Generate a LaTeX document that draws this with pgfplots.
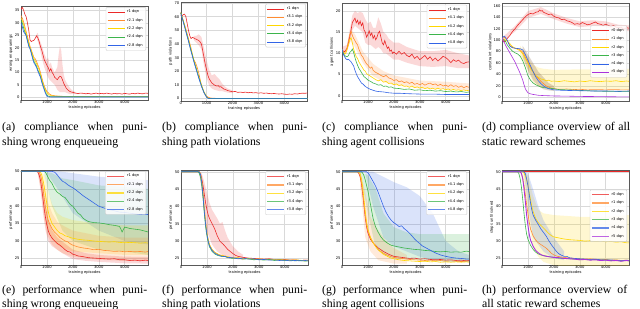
\documentclass[border=0pt]{standalone}
\usepackage{pgfplots}
\pgfplotsset{compat=1.18}
\usepackage{fontspec}
\setmainfont{Liberation Serif}
\newfontfamily\dv{DejaVu Sans}
\newcommand\tfont{\dv\fontsize{3.7}{4.2}\selectfont}
\newcommand\capfont{\fontsize{11.8}{14.5}\selectfont}
\definecolor{cR}{RGB}{235,40,40}
\definecolor{cO}{RGB}{255,140,50}
\definecolor{cY}{RGB}{255,215,0}
\definecolor{cG}{RGB}{60,180,75}
\definecolor{cB}{RGB}{50,100,230}
\definecolor{cP}{RGB}{170,50,220}
\pgfplotsset{
  panel/.style={
    scale only axis, width=127pt,
    xmin=0, xmax=4900,
    xtick={0,1000,2000,3000,4000},
    scaled ticks=false,
    /pgf/number format/1000 sep={},
    /pgf/number format/assume math mode=true,
    tick label style={font=\tfont},
    label style={font=\tfont},
    major tick length=0pt,
    xticklabel style={inner sep=1pt},
    yticklabel style={inner sep=1.2pt},
    grid=major, grid style={black!15, line width=0.35pt},
    axis line style={black!65, line width=0.4pt},
    xlabel={training episodes},
    xlabel style={inner sep=0.6pt},
    ylabel style={inner sep=0.8pt},
    every axis plot/.append style={line width=0.6pt},
    legend cell align=left,
    legend style={font=\tfont, draw=black!20, rounded corners=1pt, fill=white, fill opacity=0.85, text opacity=1, draw opacity=1, inner xsep=1.2pt, inner ysep=0.8pt, at={(0.985,0.985)}, anchor=north east},
  },
  band/.style={fill=#1, fill opacity=0.18, draw=none, forget plot},
}
\newcommand\LA[2]{\addlegendimage{#1, line width=0.8pt}\addlegendentry{#2}}
\newcommand\LB[2]{\addlegendimage{#1, line width=1.3pt, opacity=0.75}\addlegendentry{#2}}
\begin{document}
\begin{tikzpicture}
\useasboundingbox (0pt,0pt) rectangle (640pt,-308pt);
\fill[white] (0pt,0pt) rectangle (640pt,-308pt);

% ---------------- (a)
\begin{axis}[panel, at={(21pt,-100pt)}, anchor=south west, height=94.3pt,
  ymin=-1.2, ymax=37, ytick={0,5,...,35}, ylabel={wrong enqueueings}]
\LA{cR}{r1 dqn}\LA{cO}{r2.1 dqn}\LA{cY}{r2.2 dqn}\LA{cG}{r2.4 dqn}\LA{cB}{r2.8 dqn}
\addplot[band=cR] coordinates {(600,25.5)(650,26)(700,23.5)(800,21)(900,17.5)(1000,15)(1050,16)(1100,13)(1150,14)(1200,12)(1300,10)(1400,12)(1450,17)(1500,20.5)(1550,19)(1600,13)(1650,9)(1700,7)(1800,5)(1900,3.5)(2000,2.5)(2100,2)
(2100,1.2)(2000,1.3)(1900,1.2)(1800,1.5)(1700,2)(1600,2)(1500,2)(1400,3)(1300,5)(1200,6)(1100,7)(1000,9)(900,12)(800,16)(700,21)(650,22.5)(600,24)};
\addplot[cR, forget plot] coordinates {(0,35.5)(50,36.3)(100,35.2)(150,33.5)(200,32.5)(250,30)(300,27)(350,23)(400,22.5)(450,22.8)(500,23)(550,23.8)(600,24.8)(650,24)(700,22.5)(750,20.5)(800,19)(850,17)(900,15)(950,14)(1000,12.8)(1050,12)(1100,10.5)(1150,11.5)(1200,10)(1250,9.2)(1300,8)(1350,7.5)(1400,7)(1450,7.8)(1500,8.4)(1550,8.2)(1600,7)(1650,5.5)(1700,4.5)(1750,3.5)(1800,3)(1850,2.5)(1900,2.2)(1950,2)(2000,1.9)(2100,1.6)(2200,1.4)(2300,1.6)(2400,1.5)(2500,1.3)(2600,1.5)(2700,1.2)(2800,1.4)(2900,1.6)(3000,1.3)(3100,1.5)(3200,1.3)(3300,1.6)(3400,1.4)(3500,1.2)(3600,1.5)(3700,1.3)(3800,1.4)(3900,1.2)(4000,1.5)(4100,1.3)(4200,1.2)(4300,1.5)(4400,1.3)(4500,1.6)(4600,1.4)(4700,1.3)(4800,1.6)(4900,1.5)};
\addplot[cO, forget plot] coordinates {(0,33)(50,32)(100,30.5)(150,28.5)(200,26.5)(250,24.5)(300,22.5)(350,20.5)(400,19)(450,17.5)(500,16)(550,15.5)(600,14.5)(650,13)(700,11.8)(750,10)(800,8)(850,6)(900,4.5)(950,3.2)(1000,2.2)(1050,1.8)(1100,1.2)(1150,0.9)(1200,0.7)(1300,0.5)(1400,0.4)(1600,0.3)(2000,0.2)(3000,0.2)(4000,0.2)(4900,0.2)};
\addplot[cY, forget plot] coordinates {(0,32)(50,31)(100,29.5)(150,27.5)(200,25.8)(250,23.8)(300,22)(350,20)(400,18.5)(450,17)(500,15.5)(550,14.5)(600,13.5)(650,12.3)(700,11)(750,9.3)(800,7.5)(850,5.5)(900,4)(950,2.8)(1000,1.8)(1050,1.2)(1100,0.8)(1200,0.5)(1300,0.4)(1500,0.3)(2000,0.2)(4900,0.2)};
\addplot[cG, forget plot] coordinates {(0,31)(50,30)(100,28)(150,26.3)(200,25)(250,23)(300,21)(350,19.5)(400,18)(450,16)(500,14.5)(550,13.5)(600,12.5)(650,11)(700,9.8)(750,8.5)(800,6.5)(850,4.8)(900,3.3)(950,1.8)(1000,0.8)(1050,0.4)(1100,0.2)(1200,0.1)(4900,0.1)};
\addplot[cB, forget plot] coordinates {(0,30)(50,28.5)(100,26.5)(150,25.7)(200,24.8)(250,22.5)(300,20.5)(350,19.5)(400,17.5)(450,15.5)(500,13.8)(550,13)(600,12)(650,10.5)(700,9.2)(750,8)(800,6)(850,4.3)(900,2.8)(950,1.3)(1000,0.3)(1050,0.1)(1100,0)(4900,0)};
\end{axis}

% ---------------- (b)
\begin{axis}[panel, at={(180.7pt,-100.7pt)}, anchor=south west, height=98.4pt,
  ymin=-1.5, ymax=70.5, ytick={0,10,...,70}, ylabel={path violations}]
\LA{cR}{r1 dqn}\LA{cO}{r3.1 dqn}\LA{cY}{r3.2 dqn}\LA{cG}{r3.4 dqn}\LA{cB}{r3.8 dqn}
\addplot[band=cR] coordinates {(500,46)(600,46)(700,47)(800,45)(900,37)(1000,28)(1100,21)(1200,17)(1300,18)(1400,16)(1500,14)(1600,11)(1700,9)(1800,7.5)(2000,6)
(2000,4)(1800,4.5)(1700,5)(1600,5.5)(1500,5.5)(1400,6)(1300,6.5)(1200,7.5)(1100,9.5)(1000,15)(900,24)(800,36)(700,39)(600,41)(500,43)};
\addplot[cR, forget plot] coordinates {(0,61)(50,60.5)(100,61.5)(150,61.8)(200,60)(250,55)(300,50)(350,46)(400,44)(450,44.8)(500,44.5)(550,43.8)(600,43.5)(650,43)(700,42.5)(750,41.5)(800,40)(850,35)(900,30)(950,25)(1000,21)(1050,17)(1100,14.5)(1150,13)(1200,11.5)(1250,10.8)(1300,10)(1350,9.5)(1400,9.2)(1450,9.5)(1500,8.5)(1550,8.8)(1600,8)(1650,7.2)(1700,6.8)(1750,6.5)(1800,6)(1900,5.5)(2000,5)(2100,5.3)(2200,4.6)(2300,4.8)(2400,4.5)(2500,4.8)(2600,4.3)(2700,4.6)(2800,4.2)(2900,4.4)(3000,4)(3100,4.3)(3200,3.9)(3300,4.1)(3400,3.8)(3500,3.6)(3600,3.8)(3700,3.5)(3800,3.4)(3900,3.6)(4000,3.3)(4100,3.1)(4200,3.4)(4300,3.2)(4400,3.6)(4500,3.4)(4600,3.8)(4700,4)(4800,3.9)(4900,4.2)};
\addplot[cO, forget plot] coordinates {(0,63)(100,57)(200,51)(300,44)(400,37)(450,32)(500,28.5)(550,27)(600,25)(650,22)(700,18.5)(750,14)(800,10)(850,7)(900,4.5)(950,2.8)(1000,1.8)(1050,1.2)(1100,0.7)(1200,0.4)(1400,0.2)(1600,0.1)(4900,0.1)};
\addplot[cY, forget plot] coordinates {(0,63)(100,57)(200,50)(300,43)(400,36)(500,29)(600,22.5)(700,16)(800,10)(900,5)(1000,1.5)(1050,0.6)(1100,0.2)(1200,0.1)(4900,0.1)};
\addplot[cG, forget plot] coordinates {(0,63)(100,56.5)(200,49.5)(300,42.5)(400,35)(450,32)(500,28)(600,22)(700,15.5)(800,9.5)(900,4.5)(1000,1.2)(1050,0.4)(1100,0.1)(4900,0.1)};
\addplot[cB, forget plot] coordinates {(0,62.5)(100,56)(200,49)(300,42)(400,34.5)(500,27.5)(600,21)(700,14.8)(800,9)(900,4.3)(1000,1)(1050,0.3)(1100,0)(4900,0)};
\end{axis}

% ---------------- (c)
\begin{axis}[panel, at={(342pt,-100pt)}, anchor=south west, height=96.7pt,
  ymin=-1, ymax=21.8, ytick={0,5,...,20}, ylabel={agent collisions}]
\LA{cR}{r1 dqn}\LA{cO}{r4.1 dqn}\LA{cY}{r4.2 dqn}\LA{cG}{r4.4 dqn}\LA{cB}{r4.8 dqn}
\addplot[band=cR] coordinates {(0,11.5)(200,12)(300,15.5)(400,19)(500,20)(600,19.5)(700,19.8)(800,19.5)(900,18)(1000,17)(1100,17.5)(1200,16)(1300,16)(1400,18.5)(1500,17)(1600,15)(1700,14.5)(1800,13.5)(2000,12.5)(2200,12.5)(2500,11.5)(3000,10.5)(3500,10.5)(4000,10.8)(4500,10)(4900,9.5)
(4900,6.5)(4500,6.5)(4000,7)(3500,6.8)(3000,7)(2500,7.8)(2200,8.5)(2000,8.5)(1800,9.5)(1700,10)(1600,10)(1500,11)(1400,11.5)(1300,11)(1200,11.5)(1100,12)(1000,12)(900,12.5)(800,15)(700,15.5)(600,16)(500,16.5)(400,15.5)(300,12.5)(200,10.5)(0,10.5)};
\addplot[band=cO] coordinates {(300,16)(500,14.5)(800,10.5)(1200,7.5)(1600,5.8)(2000,4.8)(2500,4.2)(3000,3.6)(4000,3.3)(4900,2.9)
(4900,1.2)(4000,1.6)(3000,1.7)(2500,2.2)(2000,2.5)(1600,3.3)(1200,4.6)(800,7.8)(500,11.5)(300,13)};
\addplot[cR, forget plot] coordinates {(0,11)(50,10.5)(100,10.4)(150,10.8)(200,11.2)(250,12.5)(300,14)(350,15.5)(400,17.3)(450,17.8)(500,18.3)(550,17.2)(600,17.8)(650,16.8)(700,17.6)(750,16.5)(800,17.2)(850,15.5)(900,15)(950,13.8)(1000,14.5)(1050,15.3)(1100,14.2)(1150,14.8)(1200,13.5)(1250,14.2)(1300,13.2)(1350,13.8)(1400,14.8)(1450,15.2)(1500,13.8)(1550,12.5)(1600,12)(1650,13)(1700,12)(1750,11.2)(1800,11.5)(1850,10.5)(1900,10.8)(1950,10)(2000,10.3)(2100,9.8)(2200,10.5)(2300,9.8)(2400,10.2)(2500,9.5)(2600,9.2)(2700,9.8)(2800,8.8)(2900,9.3)(3000,8.5)(3100,9)(3200,9.5)(3300,8.6)(3400,9.2)(3500,8.3)(3600,8.9)(3700,8.2)(3800,8.7)(3900,9.3)(4000,9)(4100,8.5)(4200,7.8)(4300,8.5)(4400,8.1)(4500,8.4)(4600,7.8)(4700,7.6)(4800,7.9)(4900,8)};
\addplot[cO, forget plot] coordinates {(0,11)(50,10.3)(100,10)(150,10.5)(200,11.5)(250,13)(300,14.5)(350,15.2)(400,14.2)(450,13.5)(500,13)(550,12.4)(600,12)(650,11)(700,10.3)(750,9.5)(800,9.2)(850,8.5)(900,8)(950,7.5)(1000,7.2)(1050,6.8)(1100,6.5)(1150,6.8)(1200,6)(1300,5.5)(1400,5.2)(1500,4.8)(1600,4.5)(1700,4.8)(1800,4.2)(1900,4)(2000,3.6)(2100,3.8)(2200,3.3)(2300,3.5)(2400,3.1)(2500,3.3)(2600,2.9)(2700,3.2)(2800,2.7)(2900,2.9)(3000,2.6)(3100,2.9)(3200,2.5)(3300,2.8)(3400,3)(3500,2.6)(3600,2.8)(3700,2.4)(3800,2.7)(3900,2.3)(4000,2.5)(4100,2.2)(4200,2.6)(4300,2.2)(4400,2.4)(4500,2)(4600,2.3)(4700,1.9)(4800,2.2)(4900,2)};
\addplot[cY, forget plot] coordinates {(0,11)(50,10.2)(100,9.8)(150,10)(200,11)(250,12)(300,13.2)(350,13.7)(400,12.5)(450,11)(500,10)(550,9.2)(600,8.8)(650,8)(700,7.5)(750,7)(800,6.5)(850,6)(900,5.8)(950,5.2)(1000,5)(1100,4.6)(1200,4.2)(1300,3.8)(1400,3.5)(1500,3.8)(1600,3.2)(1700,3.4)(1800,2.9)(1900,3)(2000,2.6)(2100,2.8)(2200,2.4)(2300,2.6)(2400,2.2)(2500,2.3)(2600,2)(2700,2.3)(2800,1.9)(2900,2.1)(3000,1.8)(3100,2)(3200,1.7)(3300,1.9)(3400,1.6)(3500,1.8)(3600,1.5)(3700,1.8)(3800,1.5)(3900,1.7)(4000,1.4)(4100,1.6)(4200,1.3)(4300,1.5)(4400,1.3)(4500,1.4)(4600,1.2)(4700,1.4)(4800,1.2)(4900,1.3)};
\addplot[cG, forget plot] coordinates {(0,11)(50,10)(100,9.5)(150,9.3)(200,9.2)(250,9.5)(300,10.2)(350,10.5)(400,11)(450,10.2)(500,9)(550,8)(600,7.2)(650,6.5)(700,6)(750,5.5)(800,5)(850,4.5)(900,4.3)(950,4)(1000,3.7)(1100,3.4)(1200,3)(1300,2.8)(1400,2.5)(1500,2.6)(1600,2.2)(1700,2.3)(1800,2)(1900,2.1)(2000,1.8)(2200,1.7)(2400,1.5)(2600,1.6)(2800,1.3)(3000,1.4)(3200,1.2)(3400,1.3)(3600,1.1)(3800,1.2)(4000,1)(4200,1.1)(4400,0.9)(4600,1)(4800,0.8)(4900,0.9)};
\addplot[cB, forget plot] coordinates {(0,11)(50,9.8)(100,9.2)(150,8.7)(200,8.5)(250,8.6)(300,8.3)(350,8)(400,7.5)(450,7)(500,6)(550,5.2)(600,4.5)(650,4)(700,3.5)(750,3)(800,2.8)(850,2.5)(900,2.2)(950,2)(1000,1.8)(1100,1.5)(1200,1.3)(1300,1.1)(1400,1)(1600,0.9)(1800,0.7)(2000,0.6)(2200,0.6)(2500,0.5)(3000,0.4)(3500,0.4)(4000,0.3)(4500,0.3)(4900,0.3)};
\end{axis}

% ---------------- (d)
\begin{axis}[panel, at={(502pt,-100.7pt)}, anchor=south west, height=97.4pt,
  ymin=-6, ymax=164.7, ytick={0,20,...,160}, ylabel={constraint violations},
  legend style={at={(0.985,0.505)}, anchor=east}]
\LA{cR}{r0 dqn}\LA{cO}{r1 dqn}\LA{cY}{r2 dqn}\LA{cG}{r3 dqn}\LA{cB}{r4 dqn}\LA{cP}{r5 dqn}
\addplot[band=cR] coordinates {(0,104)(500,125)(1000,151)(1500,158)(2000,147)(2500,139)(3000,133)(3500,135)(4000,133)(4500,127)(4900,126)
(4900,116)(4500,117)(4000,123)(3500,125)(3000,123)(2500,129)(2000,137)(1500,146)(1000,139)(500,115)(0,98)};
\addplot[band=cY] coordinates {(700,90)(900,78)(1000,70)(1100,62)(1200,57)(1400,52)(1600,50)(2000,48)(3000,49)(4000,49)(4900,50)
(4900,13)(4000,14)(3000,14)(2000,15)(1600,17)(1400,19)(1200,27)(1000,45)(900,58)(700,72)};
\addplot[fill=black!60!cO, fill opacity=0.2, draw=none, forget plot] coordinates {(800,90)(1000,75)(1200,60)(1400,45)(1600,35)(1800,25)(2000,20)
(2000,11)(1800,12)(1600,14)(1400,20)(1200,30)(1000,48)(800,70)};
\addplot[cR, forget plot] coordinates {(0,101)(50,99)(100,97)(150,99)(200,103)(300,108)(400,115)(500,120)(600,126)(700,131)(800,136)(900,141)(1000,145)(1100,147)(1200,146)(1300,149)(1400,150)(1450,153)(1500,151)(1550,152)(1600,149)(1700,147)(1800,145)(1900,146)(2000,142)(2100,140)(2200,139)(2300,136)(2400,137)(2500,134)(2600,133)(2700,131)(2800,128)(2900,129)(3000,128)(3100,131)(3200,129)(3300,127)(3400,128)(3500,130)(3600,132)(3700,129)(3800,128)(3900,126)(4000,128)(4100,126)(4200,124)(4300,126)(4400,123)(4500,122)(4600,123)(4700,119)(4800,122)(4900,121)};
\addplot[cO, forget plot] coordinates {(0,102)(50,104)(100,105)(150,102)(200,99)(250,95)(300,91)(400,87)(500,86)(600,85)(700,83)(800,79)(850,75)(900,70)(950,66)(1000,62)(1050,56)(1100,52)(1150,48)(1200,45)(1300,38)(1400,33)(1500,28)(1600,24)(1700,20)(1800,18)(1900,16)(2000,15)(2200,14)(2500,14.5)(2800,13.5)(3000,14)(3300,13)(3600,13.5)(4000,13)(4300,13.5)(4600,13)(4900,13)};
\addplot[cY, forget plot] coordinates {(0,102)(100,101)(200,99)(300,94)(400,89)(500,86)(600,84)(700,81)(800,76)(900,68)(1000,60)(1100,50)(1200,44)(1300,38)(1400,35)(1500,32)(1600,31)(1700,29)(1800,30)(1900,28)(2000,28.5)(2200,27.5)(2400,29)(2600,28)(2800,27)(3000,28.5)(3200,27.5)(3400,29)(3600,28)(3800,27.5)(4000,28.5)(4200,28)(4400,29)(4600,27.5)(4800,28.5)(4900,28)};
\addplot[cG, forget plot] coordinates {(0,102)(50,101)(100,100)(150,97)(200,92)(300,86)(400,81)(500,78)(600,76)(700,72)(800,64)(900,52)(950,45)(1000,38)(1100,30)(1200,25)(1300,22)(1400,20)(1500,18)(1600,17)(1800,16)(2000,15)(2200,13.5)(2500,13)(2800,12.5)(3000,12)(3300,11.5)(3600,11)(4000,10.5)(4300,10.5)(4600,10)(4900,10)};
\addplot[cB, forget plot] coordinates {(0,103)(50,106)(100,107)(150,104)(200,100)(250,95)(300,90)(400,87)(500,86)(600,85.5)(700,85)(800,83)(900,75)(1000,65)(1100,55)(1200,45)(1300,36)(1400,29)(1500,24)(1600,20)(1700,17)(1800,15)(1900,14)(2000,13)(2200,12.5)(2500,12)(3000,11.5)(3500,11)(4000,11)(4500,10.5)(4900,11)};
\addplot[cP, forget plot] coordinates {(0,103)(50,98)(100,95)(150,90)(200,86)(300,78)(400,70)(500,62)(600,52)(700,42)(800,30)(850,22)(900,15)(950,11)(1000,8)(1100,6)(1200,5)(1400,3.5)(1600,3)(2000,2.3)(2500,2)(3000,1.5)(3500,1.3)(4000,1)(4500,0.8)(4900,0.8)};
\end{axis}

% ---------------- (e)
\begin{axis}[panel, at={(21pt,-265pt)}, anchor=south west, height=95.3pt,
  ymin=23.1, ymax=50.5, ytick={25,30,...,50}, ylabel={performance}]
\LB{cR}{r1 dqn}\LB{cO}{r2.1 dqn}\LB{cY}{r2.2 dqn}\LB{cG}{r2.4 dqn}\LB{cB}{r2.8 dqn}
\addplot[band=cB] coordinates {(1000,50)(1500,50)(2000,49.5)(3000,48.5)(4000,48)(4900,47.5)
(4900,29)(4000,30)(3000,33)(2000,38)(1500,44)(1000,49.5)};
\addplot[band=cG] coordinates {(900,50)(1200,49.5)(1600,48)(2000,47.5)(3000,46)(4000,45.5)(4900,45)
(4900,26)(4000,27)(3000,27.5)(2000,30)(1600,33)(1200,40)(1000,46)(900,49)};
\addplot[band=cY] coordinates {(750,50)(900,49)(1000,46)(1100,43)(1200,40.5)(1400,38)(1600,37)(2000,36)(3000,35)(4000,34.5)(4900,34.5)
(4900,26)(4000,26)(3000,26.5)(2000,27)(1600,28)(1400,29)(1200,30.5)(1000,34)(900,40)(750,49)};
\addplot[band=cO] coordinates {(650,50)(800,49)(900,46)(1000,42)(1200,38)(1400,35.5)(1600,34.5)(2000,33)(3000,31.5)(4000,31)(4900,31)
(4900,24.3)(4000,24.3)(3000,24.6)(2000,25.5)(1600,26.5)(1400,27.5)(1200,29)(1000,32)(900,36)(800,43)(650,49.5)};
\addplot[band=cR] coordinates {(650,50)(750,49)(850,45)(950,39.5)(1050,36)(1200,33)(1400,31)(1600,29.8)(2000,27.5)(2500,26.5)(3000,26)(4000,25.5)(4900,25.4)
(4900,23.5)(4000,23.6)(3000,24)(2500,24.3)(2000,24.8)(1600,26.5)(1400,27.5)(1200,28.5)(1050,30)(950,33)(850,38)(750,45)(650,49.5)};
\addplot[cR, forget plot] coordinates {(0,50)(600,50)(650,49.8)(700,49)(750,47.5)(800,45)(850,42)(900,39)(950,36.5)(1000,34.5)(1050,33)(1100,32)(1200,30.8)(1300,30)(1400,29.3)(1500,28.8)(1600,28.2)(1700,27.5)(1800,27)(1900,26.8)(2000,26.2)(2100,26)(2200,25.7)(2400,25.5)(2600,25.2)(2800,25.1)(3000,25)(3200,24.9)(3400,24.8)(3600,24.9)(3800,24.6)(4000,24.6)(4200,24.4)(4400,24.5)(4600,24.3)(4800,24.5)(4900,24.4)};
\addplot[cO, forget plot] coordinates {(0,50)(650,50)(700,49.8)(750,49)(800,47.5)(850,45)(900,42)(950,39.5)(1000,37.5)(1050,36)(1100,35)(1200,33.5)(1300,32.5)(1400,31.8)(1500,31)(1600,30.5)(1700,30)(1800,29.8)(1900,29.2)(2000,28.8)(2200,28.3)(2400,28)(2600,27.8)(2800,27.5)(3000,27.6)(3200,27.3)(3400,27.2)(3600,27)(3800,27.1)(4000,26.9)(4200,27)(4400,26.9)(4600,27)(4800,26.8)(4900,27)};
\addplot[cY, forget plot] coordinates {(0,50)(700,50)(750,49.8)(800,49)(850,47.5)(900,45.5)(950,43)(1000,40.5)(1050,38.5)(1100,37)(1200,35)(1300,34)(1400,33)(1500,32.3)(1600,32)(1700,31.5)(1800,31.3)(1900,31)(2000,30.8)(2200,30.5)(2400,30.3)(2600,30.2)(2800,30)(3000,29.9)(3200,29.8)(3400,29.7)(3600,29.8)(3800,29.6)(4000,29.5)(4200,29.6)(4400,29.5)(4600,29.4)(4800,29.5)(4900,29.4)};
\addplot[cG, forget plot] coordinates {(0,50)(900,50)(950,49.7)(1000,49)(1100,47.5)(1200,46.5)(1300,45)(1400,44)(1500,43.5)(1600,42.8)(1700,42.5)(1800,41.5)(1900,40.5)(2000,40)(2100,39)(2200,38)(2300,37.5)(2400,36.5)(2500,36)(2600,35.6)(2800,35.3)(3000,35.2)(3200,35)(3400,34.7)(3600,34.5)(3800,34.2)(3850,33.5)(3900,32.6)(3950,33.3)(4000,34)(4100,33.8)(4200,33.6)(4400,33.4)(4600,33.2)(4800,32.8)(4900,32.6)};
\addplot[cB, forget plot] coordinates {(0,50)(1200,50)(1300,49.8)(1400,49)(1500,48)(1600,47.2)(1700,46.8)(1800,46.2)(1900,45.7)(2000,45.3)(2100,44.8)(2200,44.2)(2300,43.6)(2400,43)(2500,42.5)(2600,42)(2700,41.5)(2800,41)(2900,40.5)(3000,40)(3200,39.5)(3400,39)(3600,38.7)(3800,38.3)(4000,38.2)(4200,38)(4400,37.8)(4600,37.6)(4800,37.7)(4900,37.6)};
\end{axis}

% ---------------- (f)
\begin{axis}[panel, at={(181pt,-265pt)}, anchor=south west, height=95pt,
  ymin=23.1, ymax=50.5, ytick={25,30,...,50}, ylabel={performance}]
\LB{cR}{r1 dqn}\LB{cO}{r3.1 dqn}\LB{cY}{r3.2 dqn}\LB{cG}{r3.4 dqn}\LB{cB}{r3.8 dqn}
\addplot[band=cR] coordinates {(700,50)(800,49.5)(900,47)(1000,44)(1100,41)(1200,39)(1400,36.5)(1500,35)(1600,35.5)(1700,33)(1800,31)(2000,28.5)(2200,27)(2400,26)
(2400,24.5)(2200,24.8)(2000,25)(1800,25.5)(1600,26)(1400,27)(1200,29)(1100,31)(1000,33)(900,38)(800,45)(700,49.5)};
\addplot[cR, forget plot] coordinates {(0,50)(700,50)(750,49.5)(800,48)(850,46)(900,43.5)(950,41)(1000,39)(1050,37.5)(1100,36.5)(1200,35)(1300,33.5)(1400,31.5)(1500,30)(1550,29.6)(1600,29.3)(1700,28.5)(1800,27.6)(1900,27)(2000,26.4)(2100,25.9)(2200,25.6)(2400,25.3)(2600,25.1)(2800,25)(3000,24.9)(3200,24.8)(3400,24.9)(3600,24.7)(3800,24.6)(4000,24.7)(4200,24.5)(4400,24.6)(4600,24.4)(4800,24.5)(4900,24.5)};
\addplot[cO, forget plot] coordinates {(0,50)(700,50)(750,49.5)(800,47.5)(850,44)(900,39.5)(950,35.5)(1000,32.5)(1050,30.5)(1100,29)(1200,27.5)(1300,26.8)(1400,26.3)(1500,26)(1600,25.8)(1700,25.7)(1800,25.4)(2000,25.2)(2200,25.1)(2400,25)(2600,24.9)(2800,24.8)(3000,24.9)(3200,24.7)(3400,24.8)(3600,24.6)(3800,24.7)(4000,24.5)(4200,24.6)(4400,24.5)(4600,24.4)(4800,24.5)(4900,24.4)};
\addplot[cY, forget plot] coordinates {(0,50)(700,50)(750,49.4)(800,47.2)(850,43.5)(900,39)(950,35.2)(1000,32.2)(1050,30.3)(1100,28.9)(1200,27.6)(1300,26.7)(1400,26.4)(1500,25.9)(1600,25.9)(1700,25.5)(1800,25.5)(2000,25.1)(2200,25.2)(2400,24.9)(2600,25)(2800,24.7)(3000,24.8)(3200,24.8)(3400,24.6)(3600,24.7)(3800,24.5)(4000,24.6)(4200,24.4)(4400,24.6)(4600,24.5)(4800,24.3)(4900,24.5)};
\addplot[cG, forget plot] coordinates {(0,50)(650,50)(700,49.6)(750,48.5)(800,46)(850,42.5)(900,38)(950,34)(1000,31.5)(1050,29.5)(1100,28.3)(1200,27)(1300,26.3)(1400,25.9)(1500,25.7)(1600,25.5)(1700,25.6)(1800,25.2)(2000,25)(2200,25.1)(2400,24.8)(2600,24.9)(2800,24.6)(3000,24.7)(3200,24.5)(3400,24.7)(3600,24.4)(3800,24.6)(4000,24.4)(4200,24.5)(4400,24.3)(4600,24.4)(4800,24.2)(4900,24.3)};
\addplot[cB, forget plot] coordinates {(0,50)(700,50)(750,49.3)(800,47)(850,43)(900,38.5)(950,34.8)(1000,32)(1050,30)(1100,28.6)(1200,27.3)(1300,26.5)(1400,26.1)(1500,25.8)(1600,25.6)(1700,25.5)(1800,25.3)(2000,25.2)(2200,24.9)(2400,25.1)(2600,24.8)(2800,24.9)(3000,24.6)(3200,24.7)(3400,24.5)(3600,24.6)(3800,24.4)(4000,24.5)(4200,24.3)(4400,24.4)(4600,24.3)(4800,24.4)(4900,24.3)};
\end{axis}

% ---------------- (g)
\begin{axis}[panel, at={(342pt,-265pt)}, anchor=south west, height=95pt,
  ymin=23.1, ymax=50.5, ytick={25,30,...,50}, ylabel={performance}]
\LB{cR}{r1 dqn}\LB{cO}{r4.1 dqn}\LB{cY}{r4.2 dqn}\LB{cG}{r4.4 dqn}\LB{cB}{r4.8 dqn}
\addplot[band=cB] coordinates {(900,50)(1200,50)(1600,48.5)(2000,47)(2500,45.5)(3000,43)(3500,38)(4000,30)(4500,27)(4900,26)
(4900,24)(4500,24)(4000,24.2)(3500,24.5)(3000,25.5)(2500,27)(2000,28.5)(1600,31)(1200,40)(900,49.5)};
\addplot[band=cG] coordinates {(700,50)(1000,49)(1300,45)(1600,38)(2000,34)(2500,32.5)(3000,32)(4000,32)(4900,32)
(4900,24)(4000,24)(3000,24.5)(2000,25)(1600,26)(1300,28)(1000,38)(700,49.5)};
\addplot[band=cO] coordinates {(700,50)(900,44)(1100,37)(1400,33)(1700,30)(2000,28)(2500,26)
(2500,23.5)(2000,23.5)(1700,24)(1400,24.5)(1100,27)(900,31)(700,46)};
\addplot[cR, forget plot] coordinates {(0,50)(600,50)(650,49.5)(700,48.5)(750,46.5)(800,43.5)(850,40)(900,36.5)(950,34)(1000,32.3)(1100,30.5)(1200,29.5)(1300,28.7)(1400,28)(1500,27.5)(1600,27)(1700,26.6)(1800,26.2)(1900,25.9)(2000,25.6)(2200,25.4)(2400,25.2)(2600,25)(2800,25.1)(3000,24.8)(3200,24.9)(3400,24.7)(3600,24.6)(3800,24.7)(4000,24.5)(4200,24.6)(4400,24.4)(4600,24.5)(4800,24.3)(4900,24.4)};
\addplot[cO, forget plot] coordinates {(0,50)(600,50)(650,49.6)(700,48.8)(750,47)(800,44)(850,40.5)(900,37)(950,34.5)(1000,32.8)(1100,31)(1200,29.5)(1300,28.5)(1400,27.5)(1500,27)(1600,26.5)(1700,26.1)(1800,25.8)(1900,25.5)(2000,25.3)(2200,25.1)(2400,24.9)(2600,24.7)(2800,24.6)(3000,24.5)(3200,24.4)(3400,24.5)(3600,24.3)(3800,24.4)(4000,24.2)(4200,24.3)(4400,24.2)(4600,24.1)(4800,24.2)(4900,24.2)};
\addplot[cY, forget plot] coordinates {(0,50)(650,50)(700,49.5)(750,48)(800,45.5)(850,42)(900,38.5)(950,35.5)(1000,33.5)(1100,31)(1200,29.5)(1300,28.4)(1400,27.5)(1500,26.8)(1600,26.2)(1700,25.8)(1800,25.4)(1900,25.1)(2000,24.9)(2200,24.6)(2400,24.4)(2600,24.3)(2800,24.2)(3000,24.1)(3200,24.2)(3400,24)(3600,24.1)(3800,23.9)(4000,24)(4200,23.9)(4400,24)(4600,23.9)(4800,24)(4900,23.9)};
\addplot[cG, forget plot] coordinates {(0,50)(750,50)(800,49.6)(850,48.8)(900,47.5)(950,46)(1000,44.5)(1050,42.5)(1100,40.5)(1150,38.5)(1200,36.5)(1300,34)(1400,32.5)(1500,31.2)(1600,30.3)(1700,29.7)(1800,29.2)(1900,28.8)(2000,28.6)(2200,28.3)(2400,28)(2600,27.8)(2800,27.6)(3000,27.5)(3200,27.3)(3400,27.2)(3600,27)(3800,26.9)(4000,27)(4200,26.8)(4400,26.9)(4600,26.8)(4800,27.1)(4900,27)};
\addplot[cB, forget plot] coordinates {(0,50)(950,50)(1000,49.7)(1050,49.2)(1100,48.5)(1200,47.2)(1300,45.8)(1400,44)(1500,42)(1600,40)(1700,38.3)(1800,37)(1900,36)(2000,35.3)(2100,34.8)(2200,34.2)(2300,34.4)(2400,33.6)(2500,33)(2600,32.3)(2700,31.5)(2800,30.6)(2900,29.9)(3000,29.3)(3100,28.6)(3200,28.2)(3300,27.8)(3400,27.4)(3500,27)(3600,26.6)(3700,26.3)(3800,26)(3900,25.8)(4000,25.6)(4200,25.3)(4400,25.1)(4600,25)(4800,24.8)(4900,24.8)};
\end{axis}

% ---------------- (h)
\begin{axis}[panel, at={(502pt,-265pt)}, anchor=south west, height=95pt,
  ymin=23.1, ymax=50.5, ytick={25,30,...,50}, ylabel={steps until solved},
  legend style={at={(0.985,0.52)}, anchor=east}]
\LB{cR}{r0 dqn}\LB{cO}{r1 dqn}\LB{cY}{r2 dqn}\LB{cG}{r3 dqn}\LB{cB}{r4 dqn}\LB{cP}{r5 dqn}
\addplot[band=cY] coordinates {(800,50)(1000,49)(1200,43)(1400,39)(1600,38)(2000,37.5)(3000,37)(4000,37)(4900,37.5)
(4900,22)(4000,22)(3000,22.3)(2000,23)(1600,24)(1400,25.5)(1200,28)(1000,37)(800,49)};
\addplot[band=cB] coordinates {(850,50)(1000,49.5)(1200,45)(1400,40)(1600,36)(2000,31)(2400,27)
(2400,24.5)(2000,25)(1600,27)(1400,29)(1200,31)(1000,40)(850,49.5)};
\addplot[cR, forget plot] coordinates {(0,50)(1000,50)(2000,50)(3000,50)(4000,50)(4900,50)};
\addplot[cO, forget plot] coordinates {(0,50)(700,50)(750,49.5)(800,48)(850,46)(900,43.5)(950,40.5)(1000,38)(1050,35.5)(1100,33.5)(1200,31.5)(1300,30.3)(1400,29.5)(1500,29)(1600,28.5)(1700,28)(1800,27.3)(1900,26.5)(2000,26)(2100,25.7)(2200,25.5)(2400,25.3)(2600,25.1)(2800,25)(3000,24.9)(3200,24.8)(3400,24.9)(3600,24.7)(3800,24.6)(4000,24.7)(4200,24.5)(4400,24.6)(4600,24.4)(4800,24.5)(4900,24.4)};
\addplot[cY, forget plot] coordinates {(0,50)(800,50)(850,49.6)(900,48.8)(950,47.5)(1000,46)(1050,44)(1100,42)(1150,40)(1200,38.5)(1300,36.5)(1400,35.3)(1500,34.5)(1600,33.8)(1700,33)(1800,32.2)(1900,31.6)(2000,31.2)(2200,30.9)(2400,30.6)(2600,30.4)(2800,30.3)(3000,30.2)(3200,30)(3400,30.1)(3600,29.9)(3800,30)(4000,29.8)(4200,29.9)(4400,29.7)(4600,29.8)(4800,29.5)(4900,29.5)};
\addplot[cG, forget plot] coordinates {(0,50)(600,50)(650,49.5)(700,48)(750,45.5)(800,42)(850,38)(900,34.5)(950,32)(1000,30.5)(1100,28.8)(1200,27.6)(1300,26.8)(1400,26.3)(1500,26)(1600,25.8)(1800,25.5)(2000,25.3)(2200,25.1)(2400,25)(2600,24.9)(2800,24.8)(3000,24.7)(3200,24.8)(3400,24.6)(3600,24.7)(3800,24.5)(4000,24.6)(4200,24.4)(4400,24.5)(4600,24.3)(4800,24.4)(4900,24.3)};
\addplot[cB, forget plot] coordinates {(0,50)(850,50)(900,49.5)(950,48)(1000,46)(1050,43.5)(1100,41)(1150,39)(1200,37.5)(1300,36)(1400,34.8)(1500,33.5)(1600,32.5)(1700,31.5)(1800,30.2)(1900,29)(2000,28)(2100,27)(2200,26.3)(2300,25.9)(2400,25.6)(2500,25.6)(2600,25.2)(2800,25)(3000,24.9)(3200,24.8)(3400,24.7)(3600,24.8)(3800,24.6)(4000,24.5)(4200,24.6)(4400,24.4)(4600,24.3)(4800,24.5)(4900,24.4)};
\addplot[cP, line width=0.9pt, forget plot] coordinates {(0,50)(700,50)(750,49.5)(800,48)(850,45)(900,41.5)(950,37.5)(1000,34.5)(1050,32)(1100,30.3)(1200,28.5)(1300,27.3)(1400,26.6)(1500,26.1)(1600,25.8)(1800,25.5)(2000,25.3)(2200,25.2)(2400,25)(2600,24.9)(2800,24.8)(3000,24.6)(3200,24.7)(3400,24.5)(3600,24.6)(3800,24.4)(4000,24.5)(4200,24.3)(4400,24.4)(4600,24.2)(4800,24.4)(4900,24.3)};
\end{axis}

% ---------------- captions
\begin{scope}[every node/.style={anchor=base west, inner sep=0pt, font=\capfont}]
\node at (2pt,-130.5pt) {\makebox[145pt][s]{(a) compliance when puni-}};
\node at (2pt,-145.5pt) {shing wrong enqueueing};
\node at (162pt,-130.5pt) {\makebox[145pt][s]{(b) compliance when puni-}};
\node at (162pt,-145.5pt) {shing path violations};
\node at (322pt,-130.5pt) {\makebox[145pt][s]{(c) compliance when puni-}};
\node at (322pt,-145.5pt) {shing agent collisions};
\node at (482pt,-130.5pt) {\makebox[148pt][s]{(d) compliance overview of all}};
\node at (482pt,-145.5pt) {static reward schemes};
\node at (2pt,-293.3pt) {\makebox[145pt][s]{(e) performance when puni-}};
\node at (2pt,-307.5pt) {shing wrong enqueueing};
\node at (162pt,-293.3pt) {\makebox[145pt][s]{(f) performance when puni-}};
\node at (162pt,-307.5pt) {shing path violations};
\node at (322pt,-293.3pt) {\makebox[145pt][s]{(g) performance when puni-}};
\node at (322pt,-307.5pt) {shing agent collisions};
\node at (482pt,-293.3pt) {\makebox[145pt][s]{(h) performance overview of}};
\node at (482pt,-307.5pt) {all static reward schemes};
\end{scope}
\end{tikzpicture}
\end{document}
